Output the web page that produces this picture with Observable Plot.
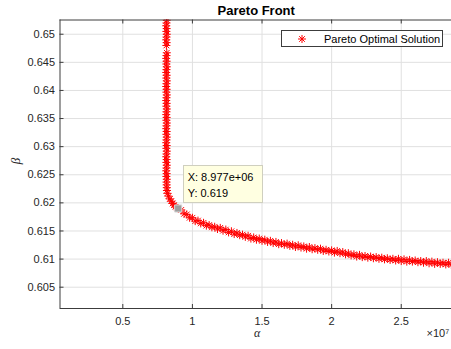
<!DOCTYPE html>
<html>
<head>
<meta charset="utf-8">
<script src="https://cdn.jsdelivr.net/npm/d3@7"></script>
<script src="https://cdn.jsdelivr.net/npm/@observablehq/plot@0.6"></script>
<style>
  html, body { margin: 0; padding: 0; background: #fff; }
  #chart svg { display: block; }
</style>
</head>
<body>
<div id="chart"></div>
<script>
// Pareto optimal solutions; alpha is expressed in units of 1e7.
// Steep branch (alpha almost constant while beta falls) and its bend.
const upperAlpha = [
  0.813, 0.816, 0.814, 0.812, 0.815, 0.813, 0.816, 0.814, 0.812, 0.815,
  0.813, 0.816, 0.814, 0.812, 0.815, 0.813, 0.816, 0.814, 0.812, 0.815,
  0.813, 0.816, 0.814, 0.812, 0.815, 0.813, 0.816, 0.814, 0.812, 0.815,
  0.813, 0.816, 0.814, 0.812, 0.815, 0.813, 0.816, 0.814, 0.812, 0.815,
  0.813, 0.816, 0.814, 0.812, 0.815, 0.813, 0.816, 0.814, 0.812, 0.815,
  0.813, 0.816, 0.814, 0.812, 0.815, 0.813, 0.816, 0.814,
  0.815, 0.816, 0.817, 0.820, 0.828, 0.838, 0.848, 0.858, 0.868, 0.879, 0.889
];
const upperBeta = [
  0.6530, 0.6525, 0.6520, 0.6515, 0.6510, 0.6505, 0.6500, 0.6495, 0.6490, 0.6485,
  0.6480, 0.6467, 0.6462, 0.6457, 0.6452, 0.6447, 0.6442, 0.6437, 0.6432, 0.6427,
  0.6422, 0.6417, 0.6412, 0.6407, 0.6402, 0.6397, 0.6392, 0.6387, 0.6382, 0.6377,
  0.6372, 0.6367, 0.6362, 0.6357, 0.6352, 0.6347, 0.6342, 0.6337, 0.6332, 0.6327,
  0.6322, 0.6317, 0.6312, 0.6307, 0.6302, 0.6297, 0.6292, 0.6287, 0.6282, 0.6277,
  0.6272, 0.6267, 0.6262, 0.6257, 0.6252, 0.6247, 0.6242, 0.6237,
  0.6232, 0.6227, 0.6222, 0.6217, 0.6212, 0.6207, 0.6203, 0.6199, 0.6196, 0.6193, 0.6191
];
// Flat branch (beta slowly decreasing as alpha grows).
const lowerAlpha = [
  0.8977, 0.92, 0.94, 0.96, 0.98, 1.00, 1.02, 1.04, 1.06, 1.08,
  1.10, 1.12, 1.14, 1.16, 1.18, 1.20, 1.22, 1.24, 1.26, 1.28,
  1.30, 1.32, 1.34, 1.36, 1.38, 1.40, 1.42, 1.44, 1.46, 1.48,
  1.50, 1.52, 1.54, 1.56, 1.58, 1.60, 1.62, 1.64, 1.66, 1.68,
  1.70, 1.72, 1.74, 1.76, 1.78, 1.80, 1.82, 1.84, 1.86, 1.88,
  1.90, 1.92, 1.94, 1.96, 1.98, 2.00, 2.02, 2.04, 2.06, 2.08,
  2.10, 2.12, 2.14, 2.16, 2.18, 2.20, 2.22, 2.24, 2.26, 2.28,
  2.30, 2.32, 2.34, 2.36, 2.38, 2.40, 2.42, 2.44, 2.46, 2.48,
  2.50, 2.52, 2.54, 2.56, 2.58, 2.60, 2.62, 2.64, 2.66, 2.68,
  2.70, 2.72, 2.74, 2.76, 2.78, 2.80, 2.82, 2.84, 2.86, 2.88
];
const lowerBeta = [
  0.61900, 0.61875, 0.61805, 0.61795, 0.61735, 0.61735, 0.61675, 0.61685, 0.61635, 0.61645,
  0.61595, 0.61605, 0.61565, 0.61575, 0.61535, 0.61555, 0.61505, 0.61525, 0.61475, 0.61495,
  0.61445, 0.61465, 0.61425, 0.61435, 0.61395, 0.61415, 0.61365, 0.61385, 0.61345, 0.61365,
  0.61325, 0.61345, 0.61305, 0.61325, 0.61285, 0.61305, 0.61265, 0.61285, 0.61255, 0.61275,
  0.61235, 0.61255, 0.61215, 0.61245, 0.61205, 0.61225, 0.61185, 0.61215, 0.61175, 0.61195,
  0.61165, 0.61185, 0.61145, 0.61165, 0.61135, 0.61155, 0.61115, 0.61145, 0.61105, 0.61125,
  0.61085, 0.61105, 0.61065, 0.61085, 0.61045, 0.61075, 0.61035, 0.61055, 0.61025, 0.61045,
  0.61015, 0.61035, 0.61005, 0.61025, 0.60995, 0.61015, 0.60985, 0.61005, 0.60975, 0.61005,
  0.60965, 0.60995, 0.60955, 0.60985, 0.60955, 0.60975, 0.60945, 0.60965, 0.60935, 0.60965,
  0.60925, 0.60955, 0.60915, 0.60945, 0.60915, 0.60935, 0.60905, 0.60935, 0.60895, 0.60925
];
// Highlighted solution (data tip).
const tipAlpha = 0.8977;
const tipBeta = 0.619;

const xTicks = [0.5, 1, 1.5, 2, 2.5];
const yTicks = [0.605, 0.61, 0.615, 0.62, 0.625, 0.63, 0.635, 0.64, 0.645, 0.65];
const xDomain = [0.0489, 2.861];
const yDomain = [0.60121, 0.65253];

const points = [
  ...upperAlpha.map((a, i) => ({alpha: a, beta: upperBeta[i]})),
  ...lowerAlpha.map((a, i) => ({alpha: a, beta: lowerBeta[i]}))
];

// Eight-armed asterisk marker (a "+" laid over an "x").
const asterisk = {
  draw(ctx, size) {
    const r = Math.sqrt(size / Math.PI);
    const d = r * Math.SQRT1_2;
    ctx.moveTo(-r, 0); ctx.lineTo(r, 0);
    ctx.moveTo(0, -r); ctx.lineTo(0, r);
    ctx.moveTo(-d, -d); ctx.lineTo(d, d);
    ctx.moveTo(-d, d); ctx.lineTo(d, -d);
  }
};

const W = 451, H = 349;
const M = {top: 19.5, right: 0, bottom: 41, left: 59.5};
const innerW = W - M.left - M.right;
const innerH = H - M.top - M.bottom;
const sans = "'Liberation Sans', Arial, Helvetica, sans-serif";
const serif = "'Liberation Serif', 'Times New Roman', serif";
const axisColor = "#3c3c3c";
const gridColor = "#e0e0e0";
const tickLen = 4;
const fmt = d => String(d);

const plot = Plot.plot({
  width: W,
  height: H,
  marginTop: M.top,
  marginRight: M.right,
  marginBottom: M.bottom,
  marginLeft: M.left,
  style: {fontFamily: sans, fontSize: "11px", color: "#262626", background: "#fff", overflow: "visible"},
  x: {domain: xDomain},
  y: {domain: yDomain},
  marks: [
    Plot.gridX(xTicks, {stroke: gridColor, strokeOpacity: 1}),
    Plot.gridY(yTicks, {stroke: gridColor, strokeOpacity: 1}),
    Plot.dot(points, {
      x: "alpha", y: "beta", symbol: asterisk, r: 4,
      stroke: "#ff0000", fill: "none", strokeWidth: 1, clip: true
    }),
    // axes box (left, bottom, top)
    Plot.ruleX([xDomain[0]], {stroke: axisColor}),
    Plot.ruleY([yDomain[0]], {stroke: axisColor}),
    Plot.ruleY([yDomain[1]], {stroke: axisColor}),
    // inward tick marks
    Plot.tickX(xTicks, {x: d => d, insetTop: innerH - tickLen, stroke: axisColor}),
    Plot.tickX(xTicks, {x: d => d, insetBottom: innerH - tickLen, stroke: axisColor}),
    Plot.tickY(yTicks, {y: d => d, insetRight: innerW - tickLen, stroke: axisColor}),
    Plot.axisX({ticks: xTicks, tickSize: 0, tickPadding: 9, tickFormat: fmt, label: null, fontSize: 11}),
    Plot.axisY({ticks: yTicks, tickSize: 0, tickPadding: 5, tickFormat: fmt, label: null, fontSize: 11}),
    Plot.text(["Pareto Front"], {frameAnchor: "top", lineAnchor: "middle", dx: 0.5, dy: -9.5, fontWeight: "bold", fontSize: 13, fill: "#000"}),
    Plot.text(["α"], {frameAnchor: "bottom", lineAnchor: "middle", dx: 1.5, dy: 24.5, fontStyle: "italic", fontFamily: serif, fontSize: 12}),
    Plot.text(["×10⁷"], {frameAnchor: "bottom-right", lineAnchor: "middle", textAnchor: "start", dx: -25, dy: 24.5, fontSize: 11}),
    Plot.text(["β"], {frameAnchor: "left", lineAnchor: "middle", dx: -44.5, rotate: -90, fontStyle: "italic", fontFamily: serif, fontSize: 13}),
    Plot.dot([{alpha: tipAlpha, beta: tipBeta}], {
      x: "alpha", y: "beta", symbol: "square", r: 4,
      fill: "#9d9d9d", stroke: "#d8d8d8", strokeWidth: 1
    })
  ]
});

document.getElementById("chart").appendChild(plot);

const svg = d3.select(plot);

// Legend
const legend = svg.append("g").attr("text-anchor", "start");
legend.append("rect")
  .attr("x", 281.5).attr("y", 30.5).attr("width", 161).attr("height", 16)
  .attr("fill", "#fff").attr("stroke", axisColor);
legend.append("path")
  .attr("transform", "translate(302,39)")
  .attr("d", d3.symbol().type(asterisk).size(Math.PI * 16)())
  .attr("fill", "none").attr("stroke", "#ff0000").attr("stroke-width", 1);
legend.append("text")
  .attr("x", 324).attr("y", 39).attr("dy", "0.35em")
  .attr("font-size", 11).attr("fill", "#000")
  .text("Pareto Optimal Solution");

// Data tip anchored to the highlighted solution
const sx = plot.scale("x"), sy = plot.scale("y");
const px = sx.apply(tipAlpha), py = sy.apply(tipBeta);
const expo = v => v.toExponential(3).replace(/e([+-])(\d)$/, "e$10$2");
const tipG = svg.append("g").attr("text-anchor", "start");
tipG.append("rect")
  .attr("x", Math.round(px + 5) + 0.5).attr("y", Math.round(py - 43) + 0.5)
  .attr("width", 79).attr("height", 37)
  .attr("fill", "#ffffe1").attr("stroke", "#cfcfbf");
tipG.append("text")
  .attr("x", px + 10).attr("y", py - 31.3).attr("dy", "0.35em")
  .attr("font-size", 11).attr("fill", "#000")
  .text("X: " + expo(tipAlpha * 1e7));
tipG.append("text")
  .attr("x", px + 10).attr("y", py - 15.3).attr("dy", "0.35em")
  .attr("font-size", 11).attr("fill", "#000")
  .text("Y: " + tipBeta);
</script>
</body>
</html>
